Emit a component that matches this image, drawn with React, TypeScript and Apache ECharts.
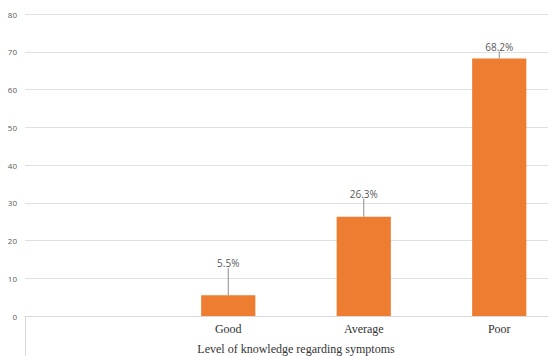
import React, { useEffect, useRef } from "react";
import * as echarts from "echarts";

const categories = ["", "Good", "Average", "Poor"];
const percentages = [null, 5.5, 26.3, 68.2];
const labelShift = [0, -22, -13, -2];
const yTicks = { min: 0, max: 80, interval: 10 };

export default function App() {
  const ref = useRef<HTMLDivElement>(null);

  useEffect(() => {
    if (!ref.current) return;
    const chart = echarts.init(ref.current, null, { renderer: "svg" });
    chart.setOption({
      animation: false,
      backgroundColor: "#ffffff",
      grid: { left: 25, right: 3, top: 14, bottom: 40, outerBoundsMode: "none" },
      xAxis: {
        type: "category",
        data: categories,
        boundaryGap: true,
        name: "Level of knowledge regarding symptoms",
        nameLocation: "middle",
        nameGap: 27,
        nameTextStyle: { fontFamily: "Liberation Serif", fontSize: 12, color: "#333333" },
        axisLine: { show: true, lineStyle: { color: "#d9d9d9", width: 1 } },
        axisTick: {
          show: true,
          length: 40,
          interval: (index: number) => index === 0,
          lineStyle: { color: "#d9d9d9" },
        },
        axisLabel: {
          fontFamily: "Liberation Serif",
          fontSize: 12,
          color: "#333333",
          margin: 7,
        },
      },
      yAxis: {
        type: "value",
        min: yTicks.min,
        max: yTicks.max,
        interval: yTicks.interval,
        axisLine: { show: false },
        axisTick: { show: false },
        splitLine: { lineStyle: { color: "#e0e0e0", width: 1 } },
        axisLabel: { fontFamily: "Open Sans", fontSize: 8, color: "#595959", margin: 8 },
      },
      series: [
        {
          type: "bar",
          data: percentages,
          barWidth: "40%",
          itemStyle: { color: "#ED7D31" },
          label: {
            show: true,
            position: "top",
            distance: 5,
            formatter: (p: any) => (p.value == null ? "" : p.value.toFixed(1) + "%"),
            fontFamily: "Open Sans",
            fontSize: 10,
            color: "#595959",
          },
          labelLayout: (params: any) => ({ dy: labelShift[params.dataIndex] }),
          labelLine: { show: true, lineStyle: { color: "#8c8c8c", width: 1 } },
        },
      ],
    });
    return () => chart.dispose();
  }, []);

  return (
    <div
      style={{
        position: "fixed",
        left: 0,
        top: 0,
        width: 548,
        height: 356,
        overflow: "hidden",
        background: "#ffffff",
      }}
    >
      <div ref={ref} style={{ width: 570, height: 356 }} />
    </div>
  );
}
